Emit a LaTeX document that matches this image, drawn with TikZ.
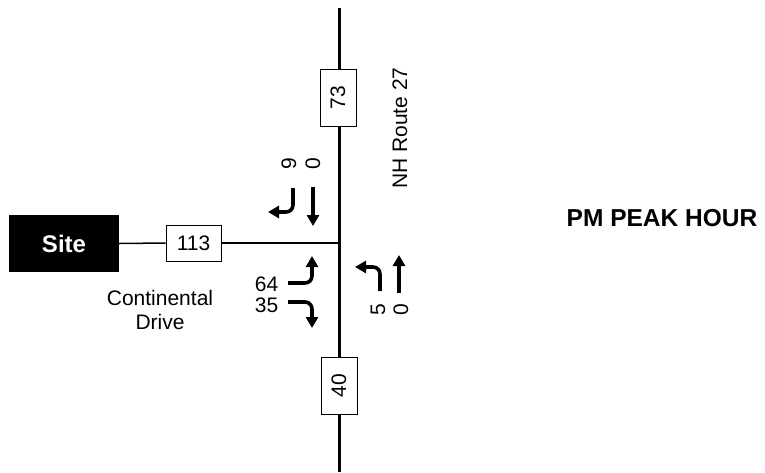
\documentclass[tikz,border=0pt]{standalone}
\usepackage{fontspec}
\setmainfont{Liberation Sans}
\usetikzlibrary{arrows.meta}
\begin{document}
\begin{tikzpicture}[x=1pt,y=-1pt,
  vol/.style={draw=black,line width=0.8pt,fill=white,inner sep=0pt,font=\fontsize{21}{24}\selectfont},
  lbl/.style={font=\fontsize{21}{24}\selectfont,inner sep=0pt},
  turn/.style={line width=3.6pt,rounded corners=7pt,-{Triangle[width=12pt,length=11pt]}}
]
\useasboundingbox (0,0) rectangle (765,472);
% roads
\coordinate (ntop) at (339,8);
\coordinate (sbot) at (339,472);
\coordinate (ctr) at (339,243);
\node[fill=black,minimum width=110pt,minimum height=57pt,inner sep=0pt,text=white,font=\fontsize{24}{28}\selectfont\bfseries] (site) at (64,243.5) {Site};
\node[vol,minimum width=55pt,minimum height=36pt] (v113) at (193.5,243) {113};
\draw[line width=1.5pt] (site.east) -- (v113.west);
\draw[line width=1.5pt] (v113.east) -- (ctr);
\draw[line width=3pt] (ntop) -- (sbot);
\node[vol,minimum width=57pt,minimum height=36pt,rotate=90] (v73) at (338,97.5) {73};
\node[vol,minimum width=57pt,minimum height=36pt,rotate=90] (v40) at (339,385.5) {40};
% labels
\node[lbl,align=center] (cd) at (160,310) {Continental\\Drive};
\node[lbl,rotate=90] (nh) at (400,128) {NH Route 27};
\node[inner sep=0pt,font=\fontsize{24.5}{28}\selectfont\bfseries] (pm) at (662,218.5) {PM PEAK HOUR};
% southbound
\coordinate (sbr0) at (293,188); \coordinate (sbr1) at (293,212); \coordinate (sbr2) at (268,212);
\draw[turn] (sbr0) -- (sbr1) -- (sbr2);
\coordinate (sbt0) at (313,187); \coordinate (sbt1) at (313,226);
\draw[turn] (sbt0) -- (sbt1);
\node[lbl,rotate=90] (n9) at (289,164) {9};
\node[lbl,rotate=90] (n0a) at (313,164) {0};
% eastbound
\coordinate (ebl0) at (288,283); \coordinate (ebl1) at (312,283); \coordinate (ebl2) at (312,256);
\draw[turn] (ebl0) -- (ebl1) -- (ebl2);
\coordinate (ebr0) at (288,302); \coordinate (ebr1) at (312,302); \coordinate (ebr2) at (312,328);
\draw[turn] (ebr0) -- (ebr1) -- (ebr2);
\node[lbl] (n64) at (266.5,284) {64};
\node[lbl] (n35) at (266.5,305) {35};
% northbound
\coordinate (nbl0) at (380,291); \coordinate (nbl1) at (380,267); \coordinate (nbl2) at (355,267);
\draw[turn] (nbl0) -- (nbl1) -- (nbl2);
\coordinate (nbt0) at (399,293); \coordinate (nbt1) at (399,255);
\draw[turn] (nbt0) -- (nbt1);
\node[lbl,rotate=90] (n5) at (378,310) {5};
\node[lbl,rotate=90] (n0b) at (401,310) {0};
\end{tikzpicture}
\end{document}
